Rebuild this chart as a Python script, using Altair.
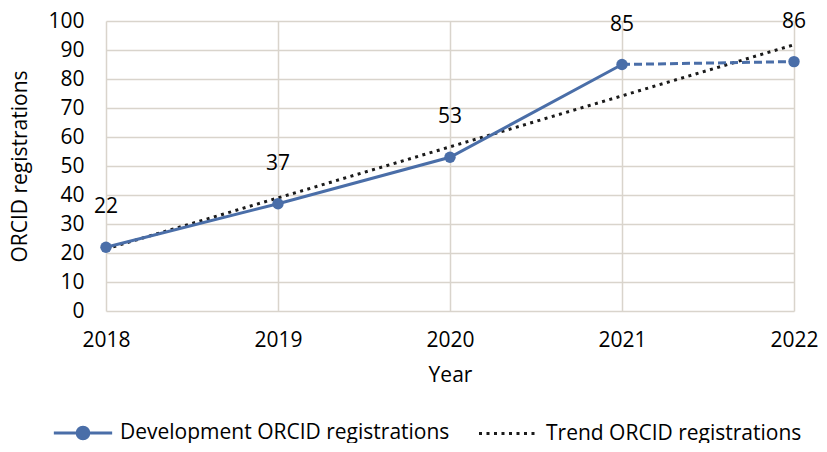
import altair as alt
import pandas as pd

years = [2018, 2019, 2020, 2021, 2022]
registrations = [22, 37, 53, 85, 86]
dev_name = "Development ORCID registrations"
trend_name = "Trend ORCID registrations"

BLUE = "#4a6ea8"
GRID = "#d9d4cc"
FONT = "Open Sans"
FS = 21

df = pd.DataFrame({"year": years, "value": registrations, "series": dev_name})
df_solid = df.iloc[:4]
df_dash = df.iloc[3:]

x = alt.X("year:Q", title="Year",
          scale=alt.Scale(domain=[years[0], years[-1]], nice=False, zero=False),
          axis=alt.Axis(values=years, format="d", tickCount=5, labelPadding=18,
                        titlePadding=14, domain=False, ticks=False,
                        labelFlush=False))
y = alt.Y("value:Q", title="ORCID registrations",
          scale=alt.Scale(domain=[0, 100], nice=False),
          axis=alt.Axis(values=list(range(0, 101, 10)), domain=False, ticks=False,
                        labelPadding=22, titlePadding=17))

base = alt.Chart(df)

solid = alt.Chart(df_solid).mark_line(color=BLUE, strokeWidth=3).encode(x=x, y=y)
dashed = alt.Chart(df_dash).mark_line(color=BLUE, strokeWidth=3, strokeDash=[8, 4]).encode(x=x, y=y)

dev_path = "M-1,0L-0.2,0A0.2,0.2 0 1,1 0.2,0A0.2,0.2 0 1,1 -0.2,0M0.2,0L1,0"
dev_scale = alt.Scale(domain=[dev_name], range=[BLUE])
points = base.mark_point(filled=True, size=130, opacity=1, strokeWidth=0).encode(
    x=x, y=y,
    color=alt.Color("series:N", scale=dev_scale,
                    legend=alt.Legend(title=None, orient="none", legendX=-54, legendY=381,
                                      symbolType=dev_path, symbolSize=3400,
                                      symbolStrokeWidth=3, symbolStrokeColor=BLUE,
                                      symbolFillColor=BLUE,
                                      labelOffset=6, padding=0, labelFontSize=FS,
                                      labelFont=FONT, labelColor="#000000",
                                      labelLimit=600)),
)

labels = base.mark_text(dy=-40, fontSize=FS, font=FONT, color="#000000").encode(
    x=x, y=y, text=alt.Text("value:Q"))

trend = base.transform_regression("year", "value", method="linear").transform_calculate(
    series=f"'{trend_name}'"
).mark_line(color="#1a1a1a", strokeWidth=3).encode(
    x=x, y=y,
    strokeDash=alt.StrokeDash("series:N",
                              scale=alt.Scale(domain=[trend_name], range=[[3, 4.5]]),
                              legend=alt.Legend(title=None, orient="none", legendX=371,
                                                legendY=382, symbolType="stroke",
                                                symbolSize=3250, symbolStrokeWidth=3,
                                                symbolStrokeColor="#1a1a1a",
                                                labelOffset=8, padding=0,
                                                labelFontSize=FS, labelFont=FONT,
                                                labelColor="#000000", labelLimit=600)),
)

chart = alt.layer(trend, solid, dashed, points, labels).resolve_scale(
    color="independent", strokeDash="independent"
).properties(
    width=688, height=290,
    padding={"left": 98, "top": 13, "right": 25, "bottom": 132},
    autosize=alt.AutoSizeParams(type="none"),
).configure_view(stroke=None).configure_axis(
    grid=True, gridColor=GRID, gridWidth=1.5,
    labelFont=FONT, labelFontSize=FS, labelColor="#000000",
    titleFont=FONT, titleFontSize=FS, titleColor="#000000", titleFontWeight="normal",
).configure_axisX(gridColor=GRID)

chart.save("out.html", embed_options={"renderer": "svg", "actions": False})
